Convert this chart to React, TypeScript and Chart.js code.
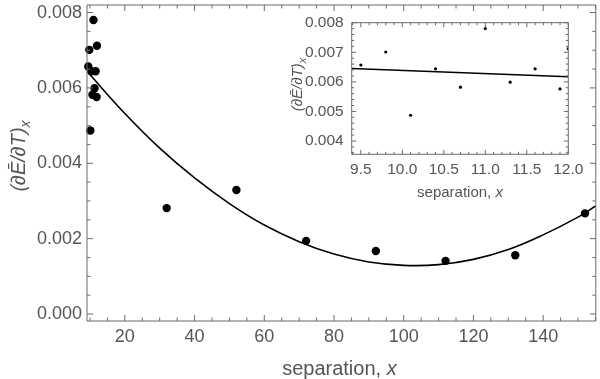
import React, { useEffect, useRef } from 'react';
import { Chart, registerables } from 'chart.js';
Chart.register(...registerables);

// ---- data ----
const sepX = [9.5, 9.8, 10.1, 10.4, 10.7, 11.0, 11.3, 11.6, 11.9, 12, 32, 52, 72, 92, 112, 132, 152];
const dEdT = [0.00657, 0.00701, 0.00487, 0.00644, 0.00582, 0.0078, 0.00599, 0.00644, 0.00576, 0.00712, 0.00281, 0.00329, 0.00194, 0.00167, 0.00141, 0.00156, 0.00267];

const fitX = [9.14, 20, 30, 40, 50, 60, 70, 80, 90, 100, 110, 120, 130, 140, 150, 155.1];
const fitY = [0.00644, 0.00532, 0.0044, 0.00361, 0.00293, 0.00236, 0.00192, 0.00159, 0.00138, 0.00129, 0.00131, 0.00145, 0.00171, 0.0021, 0.00257, 0.00287];

const insetFitX = [9.39, 12.0];
const insetFitY = [0.00645, 0.00617];

const xTickValues = [20, 40, 60, 80, 100, 120, 140];
const xTickLabels = ['20', '40', '60', '80', '100', '120', '140'];
const xMinorValues = [10, 15, 25, 30, 35, 45, 50, 55, 65, 70, 75, 85, 90, 95, 105, 110, 115, 125, 130, 135, 145, 150, 155];
const yTickValues = [0, 0.002, 0.004, 0.006, 0.008];
const yTickLabels = ['0.000', '0.002', '0.004', '0.006', '0.008'];
const yMinorValues = [0.0005, 0.001, 0.0015, 0.0025, 0.003, 0.0035, 0.0045, 0.005, 0.0055, 0.0065, 0.007, 0.0075];

const insetXTickValues = [9.5, 10, 10.5, 11, 11.5, 12];
const insetXTickLabels = ['9.5', '10.0', '10.5', '11.0', '11.5', '12.0'];
const insetXMinorValues = [9.4, 9.6, 9.7, 9.8, 9.9, 10.1, 10.2, 10.3, 10.4, 10.6, 10.7, 10.8, 10.9, 11.1, 11.2, 11.3, 11.4, 11.6, 11.7, 11.8, 11.9];
const insetYTickValues = [0.004, 0.005, 0.006, 0.007, 0.008];
const insetYTickLabels = ['0.004', '0.005', '0.006', '0.007', '0.008'];
const insetYMinorValues = [0.0036, 0.0038, 0.0042, 0.0044, 0.0046, 0.0048, 0.0052, 0.0054, 0.0056, 0.0058, 0.0062, 0.0064, 0.0066, 0.0068, 0.0072, 0.0074, 0.0076, 0.0078];

const xTitleText = 'separation, ';
const xTitleVar = 'x';
const yTitleText = '(\u2202\u0112/\u2202T)';
const yTitleSub = 'x';

const FONT = '"Liberation Sans", Arial, Helvetica, sans-serif';
const LABEL = '#555555';
const FRAME = '#6a6a6a';

type Part = { t: string; italic?: boolean; size: number; dy?: number };

function drawRich(ctx: CanvasRenderingContext2D, parts: Part[], cx: number, cy: number, angle: number) {
  ctx.save();
  ctx.translate(cx, cy);
  ctx.rotate(angle);
  ctx.fillStyle = LABEL;
  ctx.textBaseline = 'alphabetic';
  ctx.textAlign = 'left';
  const widths: number[] = [];
  let total = 0;
  for (const p of parts) {
    ctx.font = `${p.italic ? 'italic ' : ''}${p.size}px ${FONT}`;
    const w = ctx.measureText(p.t).width;
    widths.push(w);
    total += w;
  }
  let x = -total / 2;
  const base = parts[0].size * 0.36;
  parts.forEach((p, i) => {
    ctx.font = `${p.italic ? 'italic ' : ''}${p.size}px ${FONT}`;
    ctx.fillText(p.t, x, base + (p.dy || 0));
    x += widths[i];
  });
  ctx.restore();
}

function framePlugin(cfg: any) {
  return {
    id: 'frameTicks',
    afterDraw(chart: any) {
      const { ctx, chartArea: a, scales } = chart;
      const xs = scales.x, ys = scales.y;
      ctx.save();
      ctx.strokeStyle = FRAME;
      ctx.lineWidth = 1;
      ctx.beginPath();
      ctx.rect(a.left, a.top, a.right - a.left, a.bottom - a.top);
      ctx.stroke();
      const seg = (x1: number, y1: number, x2: number, y2: number) => {
        ctx.moveTo(x1, y1);
        ctx.lineTo(x2, y2);
      };
      ctx.beginPath();
      const xt = (vals: number[], L: number) => {
        for (const v of vals) {
          const p = xs.getPixelForValue(v);
          if (p < a.left - 0.5 || p > a.right + 0.5) continue;
          seg(p, a.bottom, p, a.bottom - L);
          seg(p, a.top, p, a.top + L);
        }
      };
      const yt = (vals: number[], L: number) => {
        for (const v of vals) {
          const p = ys.getPixelForValue(v);
          if (p < a.top - 0.5 || p > a.bottom + 0.5) continue;
          seg(a.left, p, a.left + L, p);
          seg(a.right, p, a.right - L, p);
        }
      };
      xt(cfg.xMajor, cfg.major);
      xt(cfg.xMinor, cfg.minor);
      yt(cfg.yMajor, cfg.major);
      yt(cfg.yMinor, cfg.minor);
      ctx.stroke();
      ctx.restore();
      // titles
      const cx = (a.left + a.right) / 2;
      drawRich(ctx, [
        { t: xTitleText, size: cfg.titleSize },
        { t: xTitleVar, italic: true, size: cfg.titleSize },
      ], cx + cfg.xTitleDx, a.bottom + cfg.xTitleDy, 0);
      const cy = (a.top + a.bottom) / 2;
      drawRich(ctx, [
        { t: yTitleText, italic: true, size: cfg.titleSize },
        { t: yTitleSub, italic: true, size: Math.round(cfg.titleSize * 0.7), dy: cfg.titleSize * 0.25 },
      ], cfg.yTitleX, cy + cfg.yTitleDy, -Math.PI / 2);
    },
  };
}

const noPadX = (h: number) => (s: any) => { s.height = h; s.paddingLeft = 0; s.paddingRight = 0; s.paddingTop = 0; s.paddingBottom = 0; };
const noPadY = (w: number) => (s: any) => { s.width = w; s.paddingLeft = 0; s.paddingRight = 0; s.paddingTop = 0; s.paddingBottom = 0; };

export default function App() {
  const mainRef = useRef<HTMLCanvasElement>(null);
  const insetRef = useRef<HTMLCanvasElement>(null);

  useEffect(() => {
    const pts = sepX.map((x, i) => ({ x, y: dEdT[i] }));
    const fit = fitX.map((x, i) => ({ x, y: fitY[i] }));
    const insetFit = insetFitX.map((x, i) => ({ x, y: insetFitY[i] }));

    const main = new Chart(mainRef.current as HTMLCanvasElement, {
      type: 'scatter',
      data: {
        datasets: [
          { data: pts, pointRadius: 4.2, pointBackgroundColor: '#000', pointBorderWidth: 0, borderColor: '#000', clip: false } as any,
          { data: fit, showLine: true, tension: 0.4, pointRadius: 0, borderColor: '#000', borderWidth: 1.6 } as any,
        ],
      },
      options: {
        responsive: false,
        animation: false,
        devicePixelRatio: 1,
        layout: { padding: { left: 0, top: 5, right: 2, bottom: 0 } },
        plugins: { legend: { display: false }, tooltip: { enabled: false } },
        scales: {
          x: {
            type: 'linear',
            min: 9.14,
            max: 155.1,
            grid: { display: false, drawTicks: false },
            border: { display: false },
            afterBuildTicks: (s: any) => { s.ticks = xTickValues.map((v) => ({ value: v })); },
            afterFit: noPadX(58),
            ticks: {
              padding: 5,
              font: { family: FONT, size: 18 },
              color: LABEL,
              maxRotation: 0,
              autoSkip: false,
              callback: (_v: any, i: number) => xTickLabels[i],
            },
          },
          y: {
            type: 'linear',
            min: -0.000186,
            max: 0.0082,
            grid: { display: false, drawTicks: false },
            border: { display: false },
            afterBuildTicks: (s: any) => { s.ticks = yTickValues.map((v) => ({ value: v })); },
            afterFit: noPadY(87),
            ticks: {
              padding: 5,
              font: { family: FONT, size: 18 },
              color: LABEL,
              autoSkip: false,
              callback: (_v: any, i: number) => yTickLabels[i],
            },
          },
        },
      },
      plugins: [framePlugin({
        xMajor: xTickValues, xMinor: xMinorValues, yMajor: yTickValues, yMinor: yMinorValues,
        major: 6, minor: 3.5, titleSize: 20, xTitleDx: -2, xTitleDy: 47, yTitleX: 18, yTitleDy: -7,
      })],
    });

    const inset = new Chart(insetRef.current as HTMLCanvasElement, {
      type: 'scatter',
      data: {
        datasets: [
          { data: pts, pointRadius: 1.6, pointBackgroundColor: '#000', pointBorderWidth: 0, borderColor: '#000' } as any,
          { data: insetFit, showLine: true, pointRadius: 0, borderColor: '#000', borderWidth: 1.6 } as any,
        ],
      },
      options: {
        responsive: false,
        animation: false,
        devicePixelRatio: 1,
        layout: { padding: { left: 290, top: 22.7, right: 31.7, bottom: 184.7 } },
        plugins: { legend: { display: false }, tooltip: { enabled: false } },
        scales: {
          x: {
            type: 'linear',
            min: 9.39,
            max: 12.0,
            grid: { display: false, drawTicks: false },
            border: { display: false },
            afterBuildTicks: (s: any) => { s.ticks = insetXTickValues.map((v) => ({ value: v })); },
            afterFit: noPadX(40),
            ticks: {
              padding: 6,
              font: { family: FONT, size: 15.5 },
              color: LABEL,
              maxRotation: 0,
              autoSkip: false,
              callback: (_v: any, i: number) => insetXTickLabels[i],
            },
          },
          y: {
            type: 'linear',
            min: 0.00355,
            max: 0.008,
            grid: { display: false, drawTicks: false },
            border: { display: false },
            afterBuildTicks: (s: any) => { s.ticks = insetYTickValues.map((v) => ({ value: v })); },
            afterFit: noPadY(61.7),
            ticks: {
              padding: 8,
              font: { family: FONT, size: 15.5 },
              color: LABEL,
              autoSkip: false,
              callback: (_v: any, i: number) => insetYTickLabels[i],
            },
          },
        },
      },
      plugins: [framePlugin({
        xMajor: insetXTickValues, xMinor: insetXMinorValues, yMajor: insetYTickValues, yMinor: insetYMinorValues,
        major: 4.5, minor: 2.5, titleSize: 15, xTitleDx: 0, xTitleDy: 37, yTitleX: 297, yTitleDy: -4,
      })],
    });

    return () => {
      main.destroy();
      inset.destroy();
    };
  }, []);

  return (
    <div style={{ position: 'absolute', left: 0, top: 0, width: 600, height: 379, background: '#ffffff' }}>
      <canvas ref={mainRef} width={600} height={379} style={{ position: 'absolute', left: 0, top: 0 }} />
      <canvas ref={insetRef} width={600} height={379} style={{ position: 'absolute', left: 0, top: 0, pointerEvents: 'none' }} />
    </div>
  );
}
